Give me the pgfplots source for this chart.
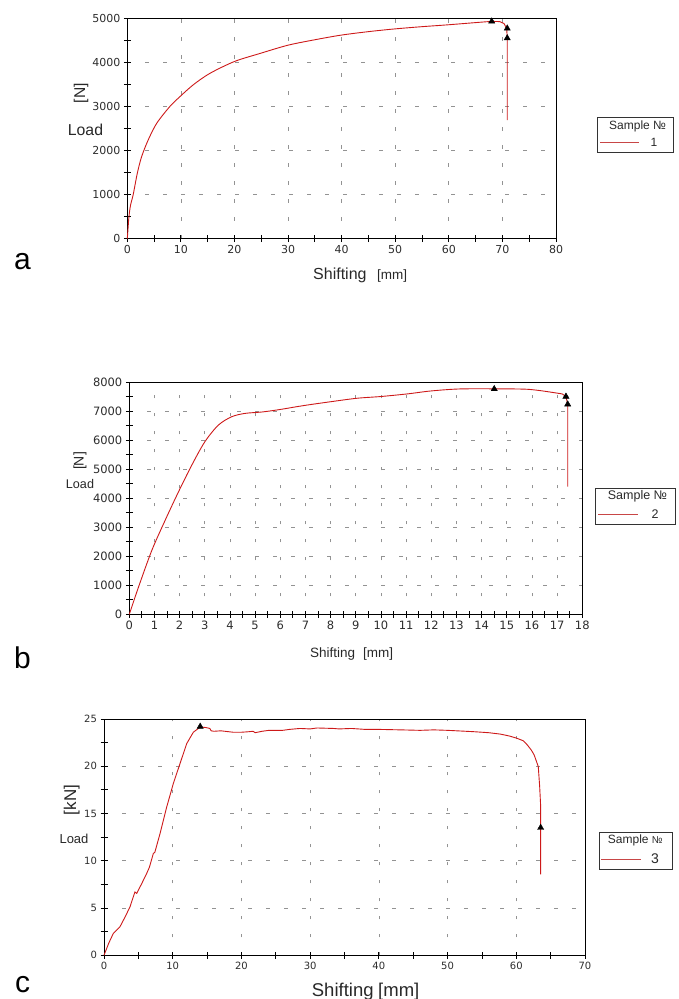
\documentclass[border=0pt]{standalone}
\usepackage{fontspec}
\setmainfont{Liberation Sans}
\newfontfamily\verd{DejaVu Sans}
\usepackage{pgfplots}
\pgfplotsset{compat=1.18}
\definecolor{curve}{RGB}{205,25,25}
\definecolor{legline}{RGB}{200,70,70}
\definecolor{tickgray}{RGB}{45,45,45}
\definecolor{labgray}{RGB}{40,40,40}
\pgfplotsset{
  myax/.style={
    scale only axis, anchor=south west,
    axis line style={black, line width=0.9pt},
    xtick pos=bottom, ytick pos=left,
    tick align=center,
    major tick length=7pt, minor tick length=7pt,
    every tick/.style={black, line width=0.8pt},
    grid=major,
    major grid style={gray!85, line width=0.7pt, dash pattern=on 3.5pt off 14.5pt},
    /pgf/number format/assume math mode=true,
    /pgf/number format/1000 sep={},
    clip=false,
  },
  curv/.style={curve, line width=0.9pt, mark=none},
  tri/.style={only marks, mark=triangle*, mark size=3.6pt, black},
}
\begin{document}
\begin{tikzpicture}
\useasboundingbox (0,0) rectangle (678pt,999pt);

% ---------------- panel a ----------------
\begin{axis}[myax, at={(127.3pt,760.3pt)}, width=428.7pt, height=220.4pt,
  xmin=0, xmax=80, ymin=0, ymax=5000,
  xtick={0,10,...,80}, ytick={0,1000,...,5000},
  minor x tick num=1, minor y tick num=1,
  tick label style={font=\verd\fontsize{11}{13}\selectfont, text=tickgray}]
\addplot[curv, smooth, tension=0.5] coordinates {
(0,0) (0.15,250) (0.31,500) (0.6,760) (1.1,1000) (1.86,1480) (2.67,1860)
(3.9,2240) (5.5,2620) (7.95,3000) (9.8,3220) (12.3,3490) (15.4,3750)
(20,4020) (24.7,4200) (30,4390) (35.3,4520) (40,4620) (45.2,4700)
(50,4760) (55,4810) (59.6,4850) (65.8,4910) (68,4930)};
\addplot[curv] coordinates {
(68,4930) (69.5,4925) (70.3,4880) (70.8,4770) (70.9,4550) (70.9,2690)};
\addplot[tri] coordinates {(68,4930) (70.9,4770) (70.9,4550)};
\end{axis}
\node[font=\fontsize{15.8}{18}\selectfont, text=labgray] at (85.5pt,869.5pt) {Load};
\node[rotate=90, font=\fontsize{15.6}{18}\selectfont, text=labgray] at (81pt,905.7pt) {[N]};
\node[anchor=base west, font=\fontsize{16}{18}\selectfont, text=labgray, inner sep=0pt] at (313pt,719.7pt) {Shifting};
\node[anchor=base west, font=\fontsize{13.5}{16}\selectfont, text=labgray, inner sep=0pt] at (377pt,719.7pt) {[mm]};
\node[anchor=base west, font=\fontsize{30}{32}\selectfont, inner sep=0pt] at (14pt,729pt) {a};
\draw[black!80, line width=0.8pt] (597pt,847pt) rectangle (673pt,882pt);
\node[anchor=west, font=\fontsize{12}{14}\selectfont, text=labgray, inner sep=0pt] at (609pt,873pt) {Sample №};
\draw[legline, line width=0.9pt] (600pt,856.3pt) -- (639pt,856.3pt);
\node[font=\fontsize{12}{14}\selectfont, text=labgray, inner sep=0pt] at (654pt,856.3pt) {1};

% ---------------- panel b ----------------
\begin{axis}[myax, at={(129.3pt,384.7pt)}, width=453pt, height=232pt,
  xmin=0, xmax=18, ymin=0, ymax=8000,
  xtick={0,1,...,18}, ytick={0,1000,...,8000},
  minor x tick num=1, minor y tick num=1,
  tick label style={font=\verd\fontsize{11.5}{13}\selectfont, text=tickgray}]
\addplot[curv, smooth, tension=0.5] coordinates {
(0,0) (0.36,924) (0.89,2194) (1.42,3233) (1.95,4215) (2.48,5139)
(3.0,5947) (3.54,6524) (4.07,6813) (4.6,6928) (5.26,6975)
(5.9,7050) (6.95,7200) (8,7330) (9.05,7450) (10,7510) (11.05,7600)
(11.97,7700) (13.1,7770) (14.5,7775) (15.8,7760) (16.6,7680)};
\addplot[curv] coordinates {
(16.6,7680) (17.2,7600) (17.35,7510) (17.42,7240) (17.42,4400)};
\addplot[tri] coordinates {(14.5,7770) (17.35,7510) (17.42,7240)};
\end{axis}
\node[font=\fontsize{12.6}{15}\selectfont, text=labgray] at (80pt,514.5pt) {Load};
\node[rotate=90, font=\fontsize{14}{16}\selectfont, text=labgray] at (80pt,538pt) {[N]};
\node[anchor=base west, font=\fontsize{13.5}{16}\selectfont, text=labgray, inner sep=0pt] at (310pt,341.7pt) {Shifting};
\node[anchor=base west, font=\fontsize{13.5}{16}\selectfont, text=labgray, inner sep=0pt] at (363pt,341.7pt) {[mm]};
\node[anchor=base west, font=\fontsize{30}{32}\selectfont, inner sep=0pt] at (14pt,330pt) {b};
\draw[black!80, line width=0.8pt] (595pt,475pt) rectangle (675pt,510.7pt);
\node[anchor=west, font=\fontsize{12.5}{14}\selectfont, text=labgray, inner sep=0pt] at (607.7pt,502.3pt) {Sample №};
\draw[legline, line width=0.9pt] (598pt,484.7pt) -- (638pt,484.7pt);
\node[font=\fontsize{12.5}{14}\selectfont, text=labgray, inner sep=0pt] at (655pt,484.7pt) {2};

% ---------------- panel c ----------------
\begin{axis}[myax, at={(104pt,43.7pt)}, width=481pt, height=236.3pt,
  xmin=0, xmax=70, ymin=0, ymax=25,
  xtick={0,10,...,70}, ytick={0,5,...,25},
  minor x tick num=1, minor y tick num=1,
  tick label style={font=\verd\fontsize{10}{12}\selectfont, text=tickgray}]
\addplot[curv] coordinates {
(0,0) (0.7,1.3) (1.36,2.32) (2.33,3.03) (3.1,4.1) (3.79,5.14) (4.5,6.7)
(4.76,6.55) (5.5,7.6) (6.21,8.66) (6.6,9.3) (7.18,10.77) (7.4,10.9)
(8.16,12.89) (9.13,15.7) (10.1,18.2) (11.07,20.3) (12.04,22.4) (13.0,23.6)
(14.0,24.15) (14.8,24.1) (15.4,24.0) (15.6,23.75) (16,23.7) (17,23.75)
(18.8,23.6) (20,23.6) (21,23.65) (21.7,23.7) (22,23.55) (23,23.7) (24,23.8)
(26,23.8) (27,23.9) (28.5,24.0) (30,23.95) (31,24.05) (33.4,24.0)
(34.2,23.95) (36,24.0) (38,23.9) (40,23.9) (43.8,23.84) (46,23.8)
(48,23.85) (50,23.8) (53.75,23.66) (56,23.55) (57.7,23.4) (59,23.2)
(60.1,22.96) (61,22.7) (61.6,22.26) (62.2,21.7) (62.6,21.2) (63.2,19.97)
(63.4,17.9) (63.55,15.76) (63.55,13.5) (63.55,8.55)};
\addplot[tri] coordinates {(14.0,24.2) (63.55,13.5)};
\end{axis}
\node[font=\fontsize{13}{15}\selectfont, text=labgray] at (74pt,160.3pt) {Load};
\node[rotate=90, font=\fontsize{17}{19}\selectfont, text=labgray] at (71.7pt,199pt) {[kN]};
\node[anchor=base west, font=\fontsize{18.5}{21}\selectfont, text=labgray, inner sep=0pt] at (311.7pt,2.5pt) {Shifting};
\node[anchor=base west, font=\fontsize{18.5}{21}\selectfont, text=labgray, inner sep=0pt] at (378pt,2.5pt) {[mm]};
\node[anchor=base west, font=\fontsize{30}{32}\selectfont, inner sep=0pt] at (15pt,6pt) {c};
\draw[black!80, line width=0.8pt] (599pt,129.7pt) rectangle (672.7pt,166.3pt);
\node[anchor=west, font=\fontsize{12}{14}\selectfont, text=labgray, inner sep=0pt] at (607.7pt,158.3pt) {Sample \fontsize{10}{12}\selectfont №};
\draw[legline, line width=0.9pt] (601pt,140pt) -- (640.7pt,140pt);
\node[font=\fontsize{14}{16}\selectfont, text=labgray, inner sep=0pt] at (655pt,140pt) {3};
\end{tikzpicture}
\end{document}
